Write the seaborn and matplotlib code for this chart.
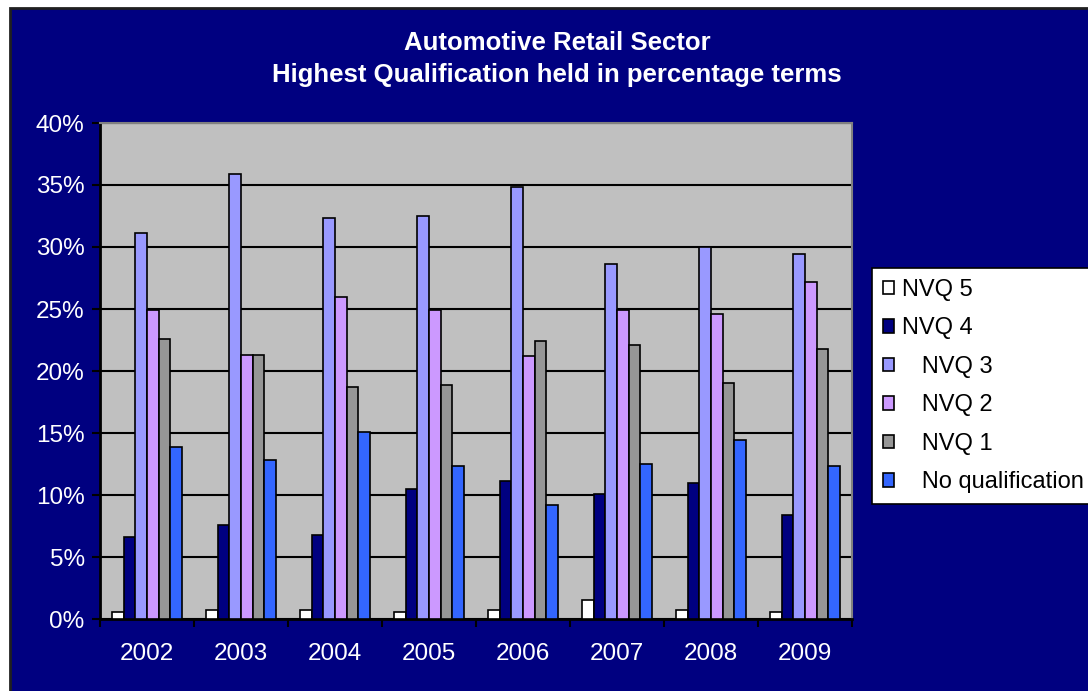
import matplotlib
matplotlib.use("Agg")
import matplotlib.pyplot as plt
import seaborn as sns
import pandas as pd
from matplotlib.patches import Rectangle
from matplotlib.ticker import FuncFormatter, FixedLocator

years = ["2002", "2003", "2004", "2005", "2006", "2007", "2008", "2009"]
levels = ["NVQ 5", "NVQ 4", "NVQ 3", "NVQ 2", "NVQ 1", "No qualification"]
legend_labels = ["NVQ 5", "NVQ 4", "   NVQ 3", "   NVQ 2", "   NVQ 1", "   No qualification"]

nvq5 = [0.6, 0.75, 0.75, 0.6, 0.75, 1.5, 0.75, 0.6]
nvq4 = [6.6, 7.6, 6.8, 10.5, 11.1, 10.05, 11.0, 8.35]
nvq3 = [31.1, 35.9, 32.35, 32.5, 34.8, 28.6, 30.0, 29.4]
nvq2 = [24.9, 21.3, 26.0, 24.9, 21.2, 24.9, 24.6, 27.2]
nvq1 = [22.6, 21.3, 18.7, 18.9, 22.4, 22.1, 19.0, 21.8]
noqual = [13.9, 12.8, 15.1, 12.3, 9.2, 12.5, 14.4, 12.3]

colors = ["#FFFFFF", "#000080", "#9999FF", "#CC99FF", "#969696", "#3366FF"]

series = [nvq5, nvq4, nvq3, nvq2, nvq1, noqual]
rows = []
for lev, vals in zip(levels, series):
    for y, v in zip(years, vals):
        rows.append({"year": y, "level": lev, "value": v / 100.0})
df = pd.DataFrame(rows)

sns.set_style("white")
plt.rcParams["font.family"] = ["Liberation Sans", "DejaVu Sans"]

W, H = 1088, 691
fig = plt.figure(figsize=(W / 100, H / 100), dpi=100, facecolor="white")
bg = Rectangle((10 / W, -0.05), 1.1, (H - 8) / H + 0.05, transform=fig.transFigure,
               facecolor="#000080", edgecolor="#202020", linewidth=2, zorder=-10)
fig.patches.append(bg)

ax = fig.add_axes([100 / W, (H - 619) / H, 752 / W, 496 / H])
ax.set_facecolor("#C0C0C0")

sns.barplot(data=df, x="year", y="value", hue="level", hue_order=levels, order=years,
            palette=colors, saturation=1, width=0.74, edgecolor="black", linewidth=1.2,
            ax=ax, legend=True, zorder=3)

ax.set_ylim(0, 0.40)
ax.set_xlim(-0.5, len(years) - 0.5)
ax.set_yticks([i * 0.05 for i in range(9)])
ax.yaxis.set_major_formatter(FuncFormatter(lambda v, p: f"{round(v * 100):d}%"))
ax.grid(axis="y", color="black", linewidth=1.5, zorder=1)
ax.set_axisbelow(True)
ax.set_xlabel("")
ax.set_ylabel("")

ax.tick_params(axis="y", colors="black", labelcolor="white", labelsize=17.5, length=6,
               width=1.5, direction="out", left=True, pad=5)
ax.tick_params(axis="x", which="major", labelcolor="white", labelsize=17.5, length=0, pad=17)
ax.xaxis.set_minor_locator(FixedLocator([i - 0.5 for i in range(len(years) + 1)]))
ax.tick_params(axis="x", which="minor", colors="black", length=6, width=1.5, direction="out", bottom=True)

for side in ["top", "right"]:
    ax.spines[side].set_color("#808080")
    ax.spines[side].set_linewidth(1.5)
for side in ["left", "bottom"]:
    ax.spines[side].set_color("black")
    ax.spines[side].set_linewidth(2)

handles, _ = ax.get_legend_handles_labels()
ax.legend_.remove()
leg = fig.legend(handles, legend_labels, loc="upper left",
                 bbox_to_anchor=(872 / W, (H - 268) / H), frameon=True, fancybox=False,
                 framealpha=1, fontsize=17, handlelength=0.5, handleheight=0.5,
                 handletextpad=0.3, labelspacing=0.7, borderpad=0.45, borderaxespad=0)
leg.get_frame().set_facecolor("white")
leg.get_frame().set_edgecolor("black")
leg.get_frame().set_linewidth(1.2)
for t in leg.get_texts():
    t.set_color("black")
for h in leg.legend_handles:
    h.set_edgecolor("black")
    h.set_linewidth(1.2)

fig.text(557 / W, (H - 43) / H, "Automotive Retail Sector", ha="center", va="center",
         color="white", fontsize=18.5, fontweight="bold")
fig.text(557 / W, (H - 75) / H, "Highest Qualification held in percentage terms", ha="center",
         va="center", color="white", fontsize=18.5, fontweight="bold")

fig.savefig("out.png", dpi=100, facecolor=fig.get_facecolor())
